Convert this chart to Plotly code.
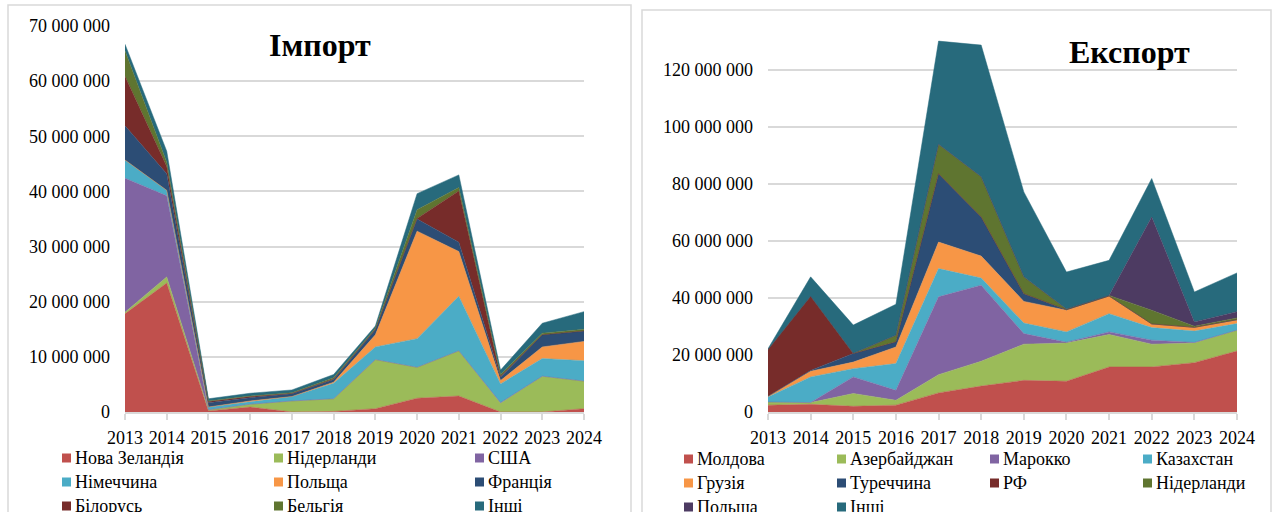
import plotly.graph_objects as go

years = [2013, 2014, 2015, 2016, 2017, 2018, 2019, 2020, 2021, 2022, 2023, 2024]

# ---- Import ----
imp_names = ["Нова Зеландія", "Нідерланди", "США", "Німеччина", "Польща",
             "Франція", "Білорусь", "Бельгія", "Інші"]
imp_nz = [17.8e6, 23.4e6, 0.2e6, 0.9e6, 0.0, 0.1e6, 0.6e6, 2.5e6, 2.9e6, 0.0, 0.0, 0.6e6]
imp_nl = [0.3e6, 1.1e6, 0.2e6, 0.5e6, 2.0e6, 2.3e6, 8.9e6, 5.6e6, 8.2e6, 1.6e6, 6.5e6, 5.0e6]
imp_us = [24.3e6, 14.7e6, 0.0, 0.0, 0.0, 0.0, 0.0, 0.0, 0.0, 0.1e6, 0.0, 0.0]
imp_de = [3.3e6, 1.0e6, 0.5e6, 0.5e6, 0.8e6, 2.8e6, 2.3e6, 5.2e6, 9.9e6, 3.4e6, 3.2e6, 3.7e6]
imp_pl = [0.0, 0.0, 0.0, 0.1e6, 0.0, 0.2e6, 2.2e6, 19.5e6, 8.1e6, 0.6e6, 2.1e6, 3.5e6]
imp_fr = [6.2e6, 3.0e6, 0.8e6, 0.6e6, 0.5e6, 0.5e6, 0.9e6, 2.2e6, 1.7e6, 0.6e6, 2.2e6, 1.9e6]
imp_by = [9.0e6, 1.3e6, 0.2e6, 0.2e6, 0.1e6, 0.1e6, 0.1e6, 0.1e6, 9.3e6, 0.2e6, 0.0, 0.0]
imp_be = [4.6e6, 0.8e6, 0.1e6, 0.1e6, 0.1e6, 0.2e6, 0.2e6, 1.6e6, 0.6e6, 0.3e6, 0.3e6, 0.3e6]
imp_other = [1.2e6, 2.0e6, 0.4e6, 0.5e6, 0.5e6, 0.6e6, 0.4e6, 2.9e6, 2.3e6, 0.8e6, 1.8e6, 3.2e6]
imp_values = [imp_nz, imp_nl, imp_us, imp_de, imp_pl, imp_fr, imp_by, imp_be, imp_other]
imp_colors = ["#C0504D", "#9BBB59", "#8064A2", "#4BACC6", "#F79646",
              "#2C4D75", "#772C2A", "#5F7530", "#276A7C"]

# ---- Export ----
exp_names = ["Молдова", "Азербайджан", "Марокко", "Казахстан", "Грузія",
             "Туреччина", "РФ", "Нідерланди", "Польща", "Інші"]
exp_md = [2.4e6, 2.7e6, 2.0e6, 2.4e6, 6.7e6, 9.1e6, 11.1e6, 10.8e6, 15.8e6, 15.8e6, 17.3e6, 21.4e6]
exp_az = [1.1e6, 0.6e6, 4.5e6, 1.7e6, 6.4e6, 8.7e6, 12.7e6, 13.4e6, 11.4e6, 8.0e6, 6.9e6, 7.3e6]
exp_ma = [0.0, 0.0, 5.8e6, 3.5e6, 27.3e6, 26.7e6, 3.7e6, 0.3e6, 0.9e6, 1.4e6, 0.2e6, 0.0]
exp_kz = [1.8e6, 9.0e6, 2.9e6, 9.4e6, 9.9e6, 2.5e6, 3.7e6, 3.6e6, 6.4e6, 4.4e6, 4.0e6, 2.3e6]
exp_ge = [0.2e6, 2.0e6, 2.3e6, 5.8e6, 9.3e6, 7.7e6, 7.6e6, 7.6e6, 6.1e6, 1.2e6, 1.2e6, 1.2e6]
exp_tr = [0.0, 0.3e6, 3.0e6, 1.8e6, 24.0e6, 13.7e6, 2.7e6, 0.2e6, 0.1e6, 0.1e6, 0.1e6, 0.2e6]
exp_ru = [16.4e6, 26.0e6, 0.0, 0.0, 0.0, 0.0, 0.0, 0.0, 0.0, 0.0, 0.0, 0.0]
exp_nl = [0.0, 0.0, 0.1e6, 2.3e6, 10.3e6, 14.1e6, 5.9e6, 0.2e6, 0.2e6, 4.8e6, 0.4e6, 0.6e6]
exp_pl = [0.0, 0.0, 0.0, 0.0, 0.0, 0.0, 0.0, 0.0, 0.0, 32.7e6, 1.5e6, 2.2e6]
exp_other = [0.3e6, 6.8e6, 9.9e6, 10.9e6, 36.2e6, 46.2e6, 29.8e6, 13.0e6, 12.3e6, 13.5e6, 10.5e6, 13.6e6]
exp_values = [exp_md, exp_az, exp_ma, exp_kz, exp_ge, exp_tr, exp_ru, exp_nl, exp_pl, exp_other]
exp_colors = ["#C0504D", "#9BBB59", "#8064A2", "#4BACC6", "#F79646",
              "#2C4D75", "#772C2A", "#5F7530", "#4D3B62", "#276A7C"]

W, H = 1274, 512
FONT = "Liberation Serif, Times New Roman, serif"
GRID = "#D9D9D9"


def px(x):
    return x / W


def py(y):
    return 1 - y / H


fig = go.Figure()

for name, vals, col in zip(imp_names, imp_values, imp_colors):
    fig.add_trace(go.Scatter(x=years, y=vals, name=name, stackgroup="imp",
                             mode="lines", line=dict(width=0.5, color=col),
                             fillcolor=col, xaxis="x", yaxis="y",
                             showlegend=False, hoverinfo="x+y+name"))

for name, vals, col in zip(exp_names, exp_values, exp_colors):
    fig.add_trace(go.Scatter(x=years, y=vals, name=name, stackgroup="exp",
                             mode="lines", line=dict(width=0.5, color=col),
                             fillcolor=col, xaxis="x2", yaxis="y2",
                             showlegend=False, hoverinfo="x+y+name"))

xcommon = dict(tickmode="array", tickvals=years, ticktext=[str(y) for y in years],
               tickangle=0, ticks="outside", ticklen=6, tickcolor=GRID, tickwidth=1.5,
               showline=True, linecolor=GRID, linewidth=1.5, showgrid=False,
               zeroline=False, tickfont=dict(family=FONT, size=18, color="#000"),
               ticklabelstandoff=3, fixedrange=True, automargin=False)
ycommon = dict(showgrid=True, gridcolor=GRID, gridwidth=1.5, zeroline=False,
               showline=False, ticks="", tickformat=",d",
               tickfont=dict(family=FONT, size=18, color="#000"),
               ticklabelstandoff=14, fixedrange=True, automargin=False)

fig.update_layout(
    width=W, height=H, margin=dict(l=0, r=0, t=0, b=0, pad=0),
    paper_bgcolor="white", plot_bgcolor="white",
    separators=", ",
    showlegend=False,
    xaxis=dict(domain=[px(125), px(584)], range=[2013, 2024], anchor="y", **xcommon),
    yaxis=dict(domain=[py(412), py(26)], range=[0, 70e6], dtick=10e6, anchor="x", **ycommon),
    xaxis2=dict(domain=[px(768), px(1237)], range=[2013, 2024], anchor="y2", **xcommon),
    yaxis2=dict(domain=[py(412), py(26)], range=[0, 135.4e6], dtick=20e6, anchor="x2", **ycommon),
)

# panel borders
fig.add_shape(type="rect", xref="paper", yref="paper", x0=px(8), x1=px(631), y0=py(530), y1=py(5),
              line=dict(color=GRID, width=1.5), layer="below")
fig.add_shape(type="rect", xref="paper", yref="paper", x0=px(642), x1=px(1271), y0=py(530), y1=py(10),
              line=dict(color=GRID, width=1.5), layer="below")

# titles
fig.add_annotation(text="<b>Імпорт</b>", x=px(320), y=py(45), xref="paper", yref="paper",
                   xanchor="center", yanchor="middle",
                   showarrow=False, font=dict(family=FONT, size=32, color="#000"))
fig.add_annotation(text="<b>Експорт</b>", x=px(1129), y=py(52), xref="paper", yref="paper",
                   xanchor="center", yanchor="middle",
                   showarrow=False, font=dict(family=FONT, size=32, color="#000"))


def add_legend(names, colors, col_x, row_y, ncols):
    for i, (n, c) in enumerate(zip(names, colors)):
        cx = col_x[i % ncols]
        cy = row_y[i // ncols]
        fig.add_shape(type="rect", xref="paper", yref="paper",
                      x0=px(cx), x1=px(cx + 9), y0=py(cy + 4.5), y1=py(cy - 4.5),
                      line=dict(width=0), fillcolor=c)
        fig.add_annotation(text=n, x=px(cx + 11), y=py(cy), xref="paper", yref="paper",
                           xanchor="left", yanchor="middle", showarrow=False,
                           font=dict(family=FONT, size=18, color="#000"))


add_legend(imp_names, imp_colors, [62, 274, 475], [458, 482, 506], 3)
add_legend(exp_names, exp_colors, [684, 837, 990, 1143], [459, 483, 507], 4)

fig.write_html("out.html", config={"displayModeBar": False},
               post_script="document.body.style.margin='0';")
